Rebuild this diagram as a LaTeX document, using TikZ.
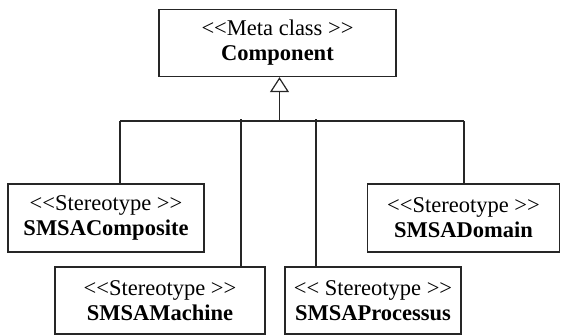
\documentclass[tikz,border=0pt]{standalone}
\usepackage{fontspec}
\setmainfont{Liberation Serif}
\usetikzlibrary{arrows.meta}
\newcommand{\stereo}[1]{{<}{<}#1{>}{>}}
\tikzset{
	umlbox/.style={draw=black!85, line width=1.3pt, align=center, inner sep=0pt, font=\fontsize{22.5}{25}\selectfont},
	link/.style={draw=black!85, line width=1.3pt},
}

\begin{document}
\begin{tikzpicture}[x=1pt, y=-1pt]
			%%%%% START %%%%%
			\useasboundingbox (0, 0) rectangle (561, 335);
			
			\node[umlbox, minimum width=237pt, minimum height=67pt] (comp) at (277.5, 43) {\stereo{Meta class }\\\textbf{Component}};
			
			\node[umlbox, minimum width=196pt, minimum height=68pt] (composite) at (106, 218) {\stereo{Stereotype }\\\textbf{SMSAComposite}};
			\node[umlbox, minimum width=192pt, minimum height=68pt] (domain) at (463.5, 218) {\stereo{Stereotype }\\\textbf{SMSADomain}};
			\node[umlbox, minimum width=210pt, minimum height=67pt] (machine) at (160, 300.5) {\stereo{Stereotype }\\\textbf{SMSAMachine}};
			\node[umlbox, minimum width=176pt, minimum height=67pt] (processus) at (373, 300.5) {\stereo{ Stereotype }\\\textbf{SMSAProcessus}};
			
			\coordinate (top) at (279.5, 121);
			\coordinate (b1) at (120, 121);
			\coordinate (b2) at (241, 119);
			\coordinate (b3) at (316, 119);
			\coordinate (b4) at (464, 121);
			
			\draw[link, -{Triangle[open, length=15pt, width=19pt, line width=1.2pt]}] (top) -- (top |- comp.south);
			\draw[link] (b1) -- (b4);
			
			\draw[link] (b1) -- (b1 |- composite.north);
			\draw[link] (b2) -- (b2 |- machine.north);
			\draw[link] (b3) -- (b3 |- processus.north);
			\draw[link] (b4) -- (b4 |- domain.north);
			
			%%%%% END %%%%%
		\end{tikzpicture}
\end{document}
